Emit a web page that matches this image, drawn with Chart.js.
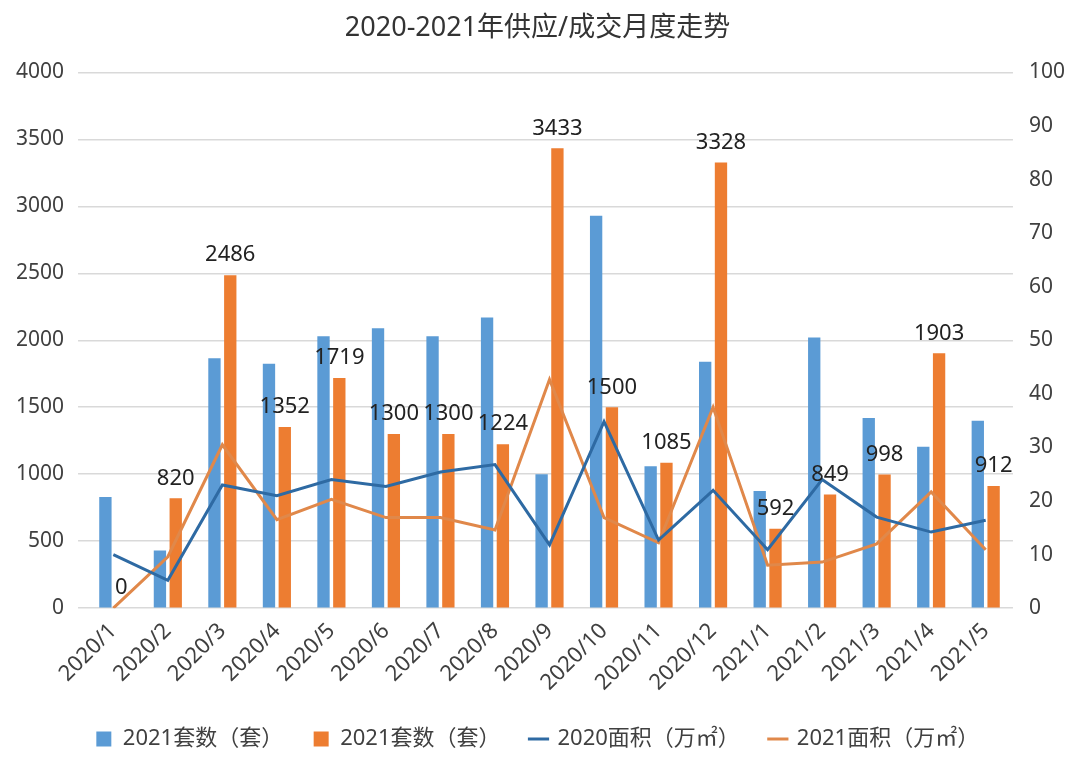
<!DOCTYPE html>
<html>
<head>
<meta charset="utf-8">
<script src="https://cdn.jsdelivr.net/npm/chart.js@4.4.0/dist/chart.umd.min.js"></script>
<style>
    html, body { margin: 0; padding: 0; background: #fff; }
    #wrap { width: 1080px; height: 771px; }
</style>
</head>
<body>
<div id="wrap"><canvas id="supplyChart"></canvas></div>
<script>
// month labels
const months = ["2020/1", "2020/2", "2020/3", "2020/4", "2020/5", "2020/6", "2020/7", "2020/8", "2020/9",
    "2020/10", "2020/11", "2020/12", "2021/1", "2021/2", "2021/3", "2021/4", "2021/5"];

// bars (left axis, 套)
const unitsBlue = [830, 430, 1865, 1825, 2030, 2090, 2030, 2170, 1000, 2930, 1060, 1840, 875, 2020, 1420, 1205, 1400];
const unitsOrange = [0, 820, 2486, 1352, 1719, 1300, 1300, 1224, 3433, 1500, 1085, 3328, 592, 849, 998, 1903, 912];

// lines (right axis, 万㎡)
const area2020 = [10, 5.2, 23, 21, 24, 22.7, 25.4, 26.8, 11.8, 34.8, 12.7, 22, 10.9, 24, 17, 14.2, 16.4];
const area2021 = [0, 9.6, 30.5, 16.5, 20.3, 16.9, 16.9, 14.6, 42.7, 16.9, 12.2, 37.5, 8, 8.6, 12, 21.7, 10.9];

const leftTicks = [0, 500, 1000, 1500, 2000, 2500, 3000, 3500, 4000];
const rightTicks = [0, 10, 20, 30, 40, 50, 60, 70, 80, 90, 100];

const FONT = "'Noto Sans', 'Noto Sans CJK SC', sans-serif";
const TEXT = "#404040";

// value labels above the orange bars
const barLabels = {
    id: "barLabels",
    afterDatasetsDraw(chart) {
        const ctx = chart.ctx;
        const meta = chart.getDatasetMeta(1);
        ctx.save();
        ctx.font = "22px " + FONT;
        ctx.fillStyle = "#222";
        ctx.textAlign = "center";
        ctx.textBaseline = "bottom";
        meta.data.forEach((bar, i) => {
            ctx.fillText(String(unitsOrange[i]), bar.x, bar.y - 9);
        });
        ctx.restore();
    }
};

const ctx = document.getElementById("supplyChart").getContext("2d");

new Chart(ctx, {
    type: "bar",

    data: {
        labels: months,
        datasets: [
            {
                label: "2021套数（套）",
                data: unitsBlue,
                backgroundColor: "#5b9bd5",
                yAxisID: "y",
                pointStyle: "rect",
                order: 2
            },
            {
                label: "2021套数（套）",
                data: unitsOrange,
                backgroundColor: "#ed7d31",
                yAxisID: "y",
                pointStyle: "rect",
                order: 2
            },
            {
                type: "line",
                label: "2020面积（万㎡）",
                data: area2020,
                borderColor: "#2e6aa3",
                backgroundColor: "#2e6aa3",
                borderWidth: 3,
                pointRadius: 0,
                pointStyle: "line",
                tension: 0,
                yAxisID: "y1",
                order: 1
            },
            {
                type: "line",
                label: "2021面积（万㎡）",
                data: area2021,
                borderColor: "#e0884a",
                backgroundColor: "#e0884a",
                borderWidth: 3,
                pointRadius: 0,
                pointStyle: "line",
                tension: 0,
                yAxisID: "y1",
                order: 1
            }
        ]
    },

    options: {
        responsive: true,
        maintainAspectRatio: false,
        animation: false,
        categoryPercentage: 0.58,
        barPercentage: 0.78,
        layout: {
            padding: { left: 2, right: 7, top: 10, bottom: 11 }
        },
        plugins: {
            title: {
                display: true,
                text: "2020-2021年供应/成交月度走势",
                color: "#333",
                font: { family: FONT, size: 27, weight: "normal" },
                padding: { top: 2, bottom: 28 }
            },
            legend: {
                position: "bottom",
                labels: {
                    usePointStyle: true,
                    boxWidth: 16,
                    boxHeight: 15,
                    padding: 30,
                    color: TEXT,
                    font: { family: FONT, size: 22 },
                    sort: (a, b) => a.datasetIndex - b.datasetIndex
                }
            },
            tooltip: { enabled: false }
        },
        scales: {
            x: {
                grid: { display: false },
                border: { display: false },
                ticks: {
                    color: TEXT,
                    font: { family: FONT, size: 22 },
                    minRotation: 45,
                    maxRotation: 45,
                    padding: 2
                }
            },
            y: {
                position: "left",
                min: 0,
                max: 4000,
                afterBuildTicks: axis => { axis.ticks = leftTicks.map(v => ({ value: v })); },
                grid: { color: "#d9d9d9", lineWidth: 1.5 },
                border: { display: false },
                ticks: {
                    color: TEXT,
                    font: { family: FONT, size: 21 },
                    padding: 14,
                    callback: v => String(v)
                }
            },
            y1: {
                position: "right",
                min: 0,
                max: 100,
                afterBuildTicks: axis => { axis.ticks = rightTicks.map(v => ({ value: v })); },
                grid: { drawOnChartArea: false, display: false },
                border: { display: false },
                ticks: {
                    color: TEXT,
                    font: { family: FONT, size: 21 },
                    padding: 8,
                    callback: v => String(v)
                }
            }
        }
    },

    plugins: [barLabels]
});
</script>
</body>
</html>
